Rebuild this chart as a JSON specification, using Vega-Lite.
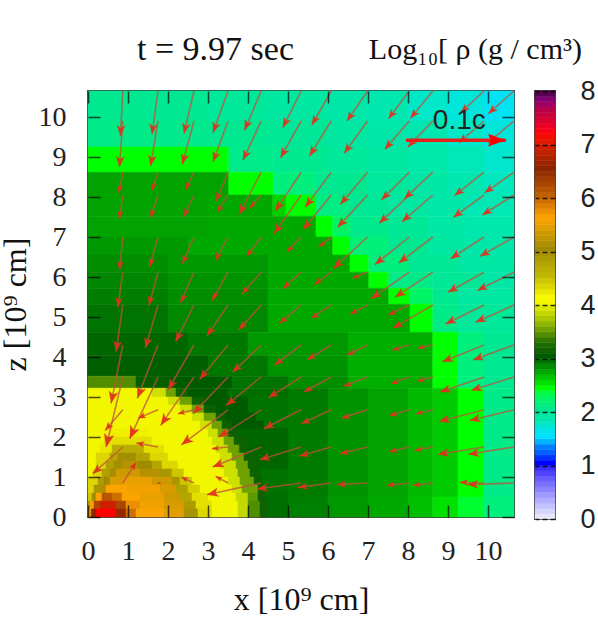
{"$schema":"https://vega.github.io/schema/vega-lite/v6.json","background":"white","padding":{"left":-2,"top":32,"right":0,"bottom":0},"bounds":"flush","spacing":21,"config":{"view":{"stroke":"#444","strokeWidth":2},"font":"Liberation Serif"},
"datasets":{
"cells":[
{"x":0,"x2":1.5,"z":9.9,"z2":10.65,"d":2},{"x":1.5,"x2":3,"z":9.9,"z2":10.65,"d":1.99},{"x":3,"x2":4.5,"z":9.9,"z2":10.65,"d":1.95},{"x":4.5,"x2":6,"z":9.9,"z2":10.65,"d":1.9},{"x":6,"x2":7,"z":9.9,"z2":10.65,"d":1.85},{"x":7,"x2":8,"z":9.9,"z2":10.65,"d":1.8},{"x":8,"x2":9,"z":9.9,"z2":10.65,"d":1.73},{"x":9,"x2":9.9,"z":9.9,"z2":10.65,"d":1.66},{"x":9.9,"x2":10.65,"z":9.9,"z2":10.65,"d":1.57},
{"x":0,"x2":1.5,"z":9.25,"z2":9.9,"d":2.05},{"x":1.5,"x2":3,"z":9.25,"z2":9.9,"d":2.03},{"x":3,"x2":4.5,"z":9.25,"z2":9.9,"d":2},{"x":4.5,"x2":6,"z":9.25,"z2":9.9,"d":1.96},{"x":6,"x2":7,"z":9.25,"z2":9.9,"d":1.9},{"x":7,"x2":8,"z":9.25,"z2":9.9,"d":1.85},{"x":8,"x2":9,"z":9.25,"z2":9.9,"d":1.8},{"x":9,"x2":9.9,"z":9.25,"z2":9.9,"d":1.73},{"x":9.9,"x2":10.65,"z":9.25,"z2":9.9,"d":1.66},
{"x":0,"x2":3.52,"z":8.62,"z2":9.25,"d":2.4},{"x":3.52,"x2":4.63,"z":8.62,"z2":9.25,"d":2.04},{"x":4.63,"x2":6,"z":8.62,"z2":9.25,"d":2},{"x":6,"x2":7,"z":8.62,"z2":9.25,"d":1.95},{"x":7,"x2":8,"z":8.62,"z2":9.25,"d":1.89},{"x":8,"x2":9,"z":8.62,"z2":9.25,"d":1.84},{"x":9,"x2":9.9,"z":8.62,"z2":9.25,"d":1.78},{"x":9.9,"x2":10.65,"z":8.62,"z2":9.25,"d":1.71},
{"x":0,"x2":3.52,"z":8.05,"z2":8.62,"d":2.72},{"x":3.52,"x2":4.63,"z":8.05,"z2":8.62,"d":2.4},{"x":4.63,"x2":5.7,"z":8.05,"z2":8.62,"d":2.1},{"x":5.7,"x2":7,"z":8.05,"z2":8.62,"d":2},{"x":7,"x2":8,"z":8.05,"z2":8.62,"d":1.93},{"x":8,"x2":9,"z":8.05,"z2":8.62,"d":1.87},{"x":9,"x2":9.9,"z":8.05,"z2":8.62,"d":1.81},{"x":9.9,"x2":10.65,"z":8.05,"z2":8.62,"d":1.76},
{"x":0,"x2":3,"z":7.52,"z2":8.05,"d":2.72},{"x":3,"x2":4.62,"z":7.52,"z2":8.05,"d":2.7},{"x":4.62,"x2":4.95,"z":7.52,"z2":8.05,"d":2.55},{"x":4.95,"x2":5.7,"z":7.52,"z2":8.05,"d":2.4},{"x":5.7,"x2":6.55,"z":7.52,"z2":8.05,"d":2.08},{"x":6.55,"x2":7.5,"z":7.52,"z2":8.05,"d":1.97},{"x":7.5,"x2":8.5,"z":7.52,"z2":8.05,"d":1.9},{"x":8.5,"x2":9.45,"z":7.52,"z2":8.05,"d":1.85},{"x":9.45,"x2":10.65,"z":7.52,"z2":8.05,"d":1.79},
{"x":0,"x2":3,"z":7,"z2":7.52,"d":2.72},{"x":3,"x2":5.7,"z":7,"z2":7.52,"d":2.7},{"x":5.7,"x2":6.12,"z":7,"z2":7.52,"d":2.4},{"x":6.12,"x2":6.55,"z":7,"z2":7.52,"d":2.2},{"x":6.55,"x2":7.5,"z":7,"z2":7.52,"d":2.03},{"x":7.5,"x2":8.5,"z":7,"z2":7.52,"d":1.96},{"x":8.5,"x2":9.45,"z":7,"z2":7.52,"d":1.87},{"x":9.45,"x2":10.65,"z":7,"z2":7.52,"d":1.82},
{"x":0,"x2":2.5,"z":6.55,"z2":7,"d":2.76},{"x":2.5,"x2":6.12,"z":6.55,"z2":7,"d":2.7},{"x":6.12,"x2":6.55,"z":6.55,"z2":7,"d":2.4},{"x":6.55,"x2":7.5,"z":6.55,"z2":7,"d":2.12},{"x":7.5,"x2":8.5,"z":6.55,"z2":7,"d":2},{"x":8.5,"x2":9.45,"z":6.55,"z2":7,"d":1.9},{"x":9.45,"x2":10.65,"z":6.55,"z2":7,"d":1.85},
{"x":0,"x2":2,"z":6.12,"z2":6.55,"d":2.8},{"x":2,"x2":4.5,"z":6.12,"z2":6.55,"d":2.76},{"x":4.5,"x2":6.55,"z":6.12,"z2":6.55,"d":2.7},{"x":6.55,"x2":7.02,"z":6.12,"z2":6.55,"d":2.4},{"x":7.02,"x2":8.05,"z":6.12,"z2":6.55,"d":2.1},{"x":8.05,"x2":9.25,"z":6.12,"z2":6.55,"d":1.97},{"x":9.25,"x2":10.65,"z":6.12,"z2":6.55,"d":1.88},
{"x":0,"x2":2,"z":5.72,"z2":6.12,"d":2.83},{"x":2,"x2":4.5,"z":5.72,"z2":6.12,"d":2.78},{"x":4.5,"x2":7.02,"z":5.72,"z2":6.12,"d":2.7},{"x":7.02,"x2":7.52,"z":5.72,"z2":6.12,"d":2.4},{"x":7.52,"x2":8.62,"z":5.72,"z2":6.12,"d":2.05},{"x":8.62,"x2":9.9,"z":5.72,"z2":6.12,"d":1.96},{"x":9.9,"x2":10.65,"z":5.72,"z2":6.12,"d":1.87},
{"x":0,"x2":2,"z":5.32,"z2":5.72,"d":2.86},{"x":2,"x2":4.5,"z":5.32,"z2":5.72,"d":2.8},{"x":4.5,"x2":7.52,"z":5.32,"z2":5.72,"d":2.7},{"x":7.52,"x2":8.05,"z":5.32,"z2":5.72,"d":2.4},{"x":8.05,"x2":8.62,"z":5.32,"z2":5.72,"d":2.2},{"x":8.62,"x2":9.25,"z":5.32,"z2":5.72,"d":2},{"x":9.25,"x2":10.65,"z":5.32,"z2":5.72,"d":1.9},
{"x":0,"x2":2,"z":4.62,"z2":5.32,"d":2.9},{"x":2,"x2":4.5,"z":4.62,"z2":5.32,"d":2.82},{"x":4.5,"x2":8.05,"z":4.62,"z2":5.32,"d":2.7},{"x":8.05,"x2":8.62,"z":4.62,"z2":5.32,"d":2.4},{"x":8.62,"x2":9.25,"z":4.62,"z2":5.32,"d":2.05},{"x":9.25,"x2":10.65,"z":4.62,"z2":5.32,"d":1.95},
{"x":0,"x2":2.5,"z":4.03,"z2":4.62,"d":2.95},{"x":2.5,"x2":4,"z":4.03,"z2":4.62,"d":2.88},{"x":4,"x2":6.5,"z":4.03,"z2":4.62,"d":2.76},{"x":6.5,"x2":8.62,"z":4.03,"z2":4.62,"d":2.68},{"x":8.62,"x2":9.25,"z":4.03,"z2":4.62,"d":2.4},{"x":9.25,"x2":9.9,"z":4.03,"z2":4.62,"d":2.1},{"x":9.9,"x2":10.65,"z":4.03,"z2":4.62,"d":1.98},
{"x":0,"x2":3,"z":3.52,"z2":4.03,"d":2.98},{"x":3,"x2":4.5,"z":3.52,"z2":4.03,"d":2.88},{"x":4.5,"x2":6.5,"z":3.52,"z2":4.03,"d":2.78},{"x":6.5,"x2":8.62,"z":3.52,"z2":4.03,"d":2.68},{"x":8.62,"x2":9.25,"z":3.52,"z2":4.03,"d":2.4},{"x":9.25,"x2":9.9,"z":3.52,"z2":4.03,"d":2.1},{"x":9.9,"x2":10.65,"z":3.52,"z2":4.03,"d":1.98},
{"x":0,"x2":1.2,"z":3.22,"z2":3.52,"d":3.4},{"x":1.2,"x2":2,"z":3.22,"z2":3.52,"d":3.05},{"x":2,"x2":3.6,"z":3.22,"z2":3.52,"d":3},{"x":3.6,"x2":5,"z":3.22,"z2":3.52,"d":2.9},{"x":5,"x2":6.5,"z":3.22,"z2":3.52,"d":2.8},{"x":6.5,"x2":8.62,"z":3.22,"z2":3.52,"d":2.68},{"x":8.62,"x2":9.25,"z":3.22,"z2":3.52,"d":2.4},{"x":9.25,"x2":9.9,"z":3.22,"z2":3.52,"d":2.1},{"x":9.9,"x2":10.65,"z":3.22,"z2":3.52,"d":2},
{"x":5,"x2":6,"z":0.5,"z2":3.22,"d":2.87},{"x":6,"x2":7,"z":0.5,"z2":3.22,"d":2.78},{"x":7,"x2":8,"z":0.5,"z2":3.22,"d":2.72},{"x":8,"x2":8.62,"z":0.5,"z2":3.22,"d":2.64},{"x":8.62,"x2":9.25,"z":0.5,"z2":3.22,"d":2.58},{"x":9.25,"x2":9.9,"z":0.5,"z2":3.22,"d":2.4},{"x":9.9,"x2":10.65,"z":0.5,"z2":3.22,"d":2.05},
{"x":5,"x2":6,"z":0,"z2":0.5,"d":2.85},{"x":6,"x2":7,"z":0,"z2":0.5,"d":2.76},{"x":7,"x2":8,"z":0,"z2":0.5,"d":2.7},{"x":8,"x2":8.62,"z":0,"z2":0.5,"d":2.62},{"x":8.62,"x2":9.25,"z":0,"z2":0.5,"d":2.5},{"x":9.25,"x2":9.9,"z":0,"z2":0.5,"d":2.35},{"x":9.9,"x2":10.65,"z":0,"z2":0.5,"d":2.1},
{"x":0,"x2":1.6,"z":3,"z2":3.22,"d":4},{"x":1.6,"x2":1.95,"z":3,"z2":3.22,"d":3.85},{"x":1.95,"x2":2.2,"z":3,"z2":3.22,"d":3.5},{"x":2.2,"x2":2.5,"z":3,"z2":3.22,"d":3.1},{"x":2.5,"x2":3.5,"z":3,"z2":3.22,"d":3},{"x":3.5,"x2":5,"z":3,"z2":3.22,"d":2.92},
{"x":0,"x2":2,"z":2.8,"z2":3,"d":4},{"x":2,"x2":2.3,"z":2.8,"z2":3,"d":3.85},{"x":2.3,"x2":2.6,"z":2.8,"z2":3,"d":3.5},{"x":2.6,"x2":2.9,"z":2.8,"z2":3,"d":3.1},{"x":2.9,"x2":4,"z":2.8,"z2":3,"d":3},{"x":4,"x2":5,"z":2.8,"z2":3,"d":2.9},
{"x":0,"x2":2.3,"z":2.6,"z2":2.8,"d":4},{"x":2.3,"x2":2.6,"z":2.6,"z2":2.8,"d":3.85},{"x":2.6,"x2":2.9,"z":2.6,"z2":2.8,"d":3.5},{"x":2.9,"x2":3.2,"z":2.6,"z2":2.8,"d":3.08},{"x":3.2,"x2":4,"z":2.6,"z2":2.8,"d":3},{"x":4,"x2":5,"z":2.6,"z2":2.8,"d":2.9},
{"x":0,"x2":2.6,"z":2.4,"z2":2.6,"d":4},{"x":2.6,"x2":2.9,"z":2.4,"z2":2.6,"d":3.85},{"x":2.9,"x2":3.2,"z":2.4,"z2":2.6,"d":3.5},{"x":3.2,"x2":3.45,"z":2.4,"z2":2.6,"d":3.08},{"x":3.45,"x2":4.2,"z":2.4,"z2":2.6,"d":3},{"x":4.2,"x2":5,"z":2.4,"z2":2.6,"d":2.9},
{"x":0,"x2":2.8,"z":2.2,"z2":2.4,"d":4},{"x":2.8,"x2":3.1,"z":2.2,"z2":2.4,"d":3.85},{"x":3.1,"x2":3.35,"z":2.2,"z2":2.4,"d":3.5},{"x":3.35,"x2":3.6,"z":2.2,"z2":2.4,"d":3.08},{"x":3.6,"x2":4.4,"z":2.2,"z2":2.4,"d":3},{"x":4.4,"x2":5,"z":2.2,"z2":2.4,"d":2.9},
{"x":0,"x2":0.5,"z":2,"z2":2.2,"d":4},{"x":0.5,"x2":1.5,"z":2,"z2":2.2,"d":4.15},{"x":1.5,"x2":3,"z":2,"z2":2.2,"d":4},{"x":3,"x2":3.25,"z":2,"z2":2.2,"d":3.85},{"x":3.25,"x2":3.5,"z":2,"z2":2.2,"d":3.5},{"x":3.5,"x2":3.75,"z":2,"z2":2.2,"d":3.08},{"x":3.75,"x2":5,"z":2,"z2":2.2,"d":2.95},
{"x":0,"x2":0.4,"z":1.8,"z2":2,"d":4},{"x":0.4,"x2":1.6,"z":1.8,"z2":2,"d":4.25},{"x":1.6,"x2":3.1,"z":1.8,"z2":2,"d":4},{"x":3.1,"x2":3.4,"z":1.8,"z2":2,"d":3.85},{"x":3.4,"x2":3.65,"z":1.8,"z2":2,"d":3.5},{"x":3.65,"x2":3.9,"z":1.8,"z2":2,"d":3.1},{"x":3.9,"x2":5,"z":1.8,"z2":2,"d":2.95},
{"x":0,"x2":0.3,"z":1.6,"z2":1.8,"d":4},{"x":0.3,"x2":0.6,"z":1.6,"z2":1.8,"d":4.2},{"x":0.6,"x2":1.4,"z":1.6,"z2":1.8,"d":4.6},{"x":1.4,"x2":1.9,"z":1.6,"z2":1.8,"d":4.25},{"x":1.9,"x2":3.2,"z":1.6,"z2":1.8,"d":4},{"x":3.2,"x2":3.5,"z":1.6,"z2":1.8,"d":3.85},{"x":3.5,"x2":3.78,"z":1.6,"z2":1.8,"d":3.5},{"x":3.78,"x2":4,"z":1.6,"z2":1.8,"d":3.1},{"x":4,"x2":5,"z":1.6,"z2":1.8,"d":2.95},
{"x":0,"x2":0.2,"z":1.4,"z2":1.6,"d":4},{"x":0.2,"x2":0.55,"z":1.4,"z2":1.6,"d":4.3},{"x":0.55,"x2":0.75,"z":1.4,"z2":1.6,"d":4.7},{"x":0.75,"x2":1.2,"z":1.4,"z2":1.6,"d":4.95},{"x":1.2,"x2":1.55,"z":1.4,"z2":1.6,"d":4.7},{"x":1.55,"x2":2,"z":1.4,"z2":1.6,"d":4.3},{"x":2,"x2":3.3,"z":1.4,"z2":1.6,"d":4},{"x":3.3,"x2":3.6,"z":1.4,"z2":1.6,"d":3.85},{"x":3.6,"x2":3.9,"z":1.4,"z2":1.6,"d":3.5},{"x":3.9,"x2":4.15,"z":1.4,"z2":1.6,"d":3.1},{"x":4.15,"x2":5,"z":1.4,"z2":1.6,"d":2.95},
{"x":0,"x2":0.2,"z":1.2,"z2":1.4,"d":4},{"x":0.2,"x2":0.45,"z":1.2,"z2":1.4,"d":4.3},{"x":0.45,"x2":0.65,"z":1.2,"z2":1.4,"d":4.75},{"x":0.65,"x2":0.85,"z":1.2,"z2":1.4,"d":4.95},{"x":0.85,"x2":1.25,"z":1.2,"z2":1.4,"d":5.15},{"x":1.25,"x2":1.6,"z":1.2,"z2":1.4,"d":5},{"x":1.6,"x2":1.85,"z":1.2,"z2":1.4,"d":4.7},{"x":1.85,"x2":2.25,"z":1.2,"z2":1.4,"d":4.3},{"x":2.25,"x2":3.3,"z":1.2,"z2":1.4,"d":4},{"x":3.3,"x2":3.7,"z":1.2,"z2":1.4,"d":3.85},{"x":3.7,"x2":4,"z":1.2,"z2":1.4,"d":3.5},{"x":4,"x2":4.25,"z":1.2,"z2":1.4,"d":3.1},{"x":4.25,"x2":5,"z":1.2,"z2":1.4,"d":2.95},
{"x":0,"x2":0.12,"z":1,"z2":1.2,"d":4},{"x":0.12,"x2":0.35,"z":1,"z2":1.2,"d":4.3},{"x":0.35,"x2":0.55,"z":1,"z2":1.2,"d":4.75},{"x":0.55,"x2":0.7,"z":1,"z2":1.2,"d":4.95},{"x":0.7,"x2":1.3,"z":1,"z2":1.2,"d":5.3},{"x":1.3,"x2":1.8,"z":1,"z2":1.2,"d":5.15},{"x":1.8,"x2":2.1,"z":1,"z2":1.2,"d":4.85},{"x":2.1,"x2":2.4,"z":1,"z2":1.2,"d":4.4},{"x":2.4,"x2":3.4,"z":1,"z2":1.2,"d":4},{"x":3.4,"x2":3.75,"z":1,"z2":1.2,"d":3.85},{"x":3.75,"x2":4.05,"z":1,"z2":1.2,"d":3.5},{"x":4.05,"x2":4.3,"z":1,"z2":1.2,"d":3.1},{"x":4.3,"x2":5,"z":1,"z2":1.2,"d":2.9},
{"x":0,"x2":0.25,"z":0.8,"z2":1,"d":4.3},{"x":0.25,"x2":0.4,"z":0.8,"z2":1,"d":4.8},{"x":0.4,"x2":0.55,"z":0.8,"z2":1,"d":5},{"x":0.55,"x2":0.9,"z":0.8,"z2":1,"d":5.35},{"x":0.9,"x2":1.6,"z":0.8,"z2":1,"d":5.45},{"x":1.6,"x2":2.1,"z":0.8,"z2":1,"d":5.3},{"x":2.1,"x2":2.3,"z":0.8,"z2":1,"d":4.85},{"x":2.3,"x2":2.6,"z":0.8,"z2":1,"d":4.4},{"x":2.6,"x2":3.5,"z":0.8,"z2":1,"d":4},{"x":3.5,"x2":3.8,"z":0.8,"z2":1,"d":3.85},{"x":3.8,"x2":4.15,"z":0.8,"z2":1,"d":3.5},{"x":4.15,"x2":4.35,"z":0.8,"z2":1,"d":3.1},{"x":4.35,"x2":5,"z":0.8,"z2":1,"d":2.9},
{"x":0,"x2":0.15,"z":0.6,"z2":0.8,"d":4.3},{"x":0.15,"x2":0.3,"z":0.6,"z2":0.8,"d":4.85},{"x":0.3,"x2":0.45,"z":0.6,"z2":0.8,"d":5.1},{"x":0.45,"x2":1,"z":0.6,"z2":0.8,"d":5.55},{"x":1,"x2":1.8,"z":0.6,"z2":0.8,"d":5.5},{"x":1.8,"x2":2.2,"z":0.6,"z2":0.8,"d":5.35},{"x":2.2,"x2":2.5,"z":0.6,"z2":0.8,"d":4.75},{"x":2.5,"x2":2.8,"z":0.6,"z2":0.8,"d":4.35},{"x":2.8,"x2":3.6,"z":0.6,"z2":0.8,"d":4},{"x":3.6,"x2":3.85,"z":0.6,"z2":0.8,"d":3.85},{"x":3.85,"x2":4.25,"z":0.6,"z2":0.8,"d":3.5},{"x":4.25,"x2":4.4,"z":0.6,"z2":0.8,"d":3.1},{"x":4.4,"x2":5,"z":0.6,"z2":0.8,"d":2.9},
{"x":0,"x2":0.1,"z":0.4,"z2":0.6,"d":4.4},{"x":0.1,"x2":0.2,"z":0.4,"z2":0.6,"d":5},{"x":0.2,"x2":0.35,"z":0.4,"z2":0.6,"d":5.6},{"x":0.35,"x2":0.6,"z":0.4,"z2":0.6,"d":6.1},{"x":0.6,"x2":0.85,"z":0.4,"z2":0.6,"d":5.9},{"x":0.85,"x2":1.3,"z":0.4,"z2":0.6,"d":5.55},{"x":1.3,"x2":1.9,"z":0.4,"z2":0.6,"d":5.45},{"x":1.9,"x2":2.3,"z":0.4,"z2":0.6,"d":5.3},{"x":2.3,"x2":2.6,"z":0.4,"z2":0.6,"d":4.7},{"x":2.6,"x2":3,"z":0.4,"z2":0.6,"d":4.25},{"x":3,"x2":3.7,"z":0.4,"z2":0.6,"d":4},{"x":3.7,"x2":4,"z":0.4,"z2":0.6,"d":3.8},{"x":4,"x2":4.25,"z":0.4,"z2":0.6,"d":3.45},{"x":4.25,"x2":4.45,"z":0.4,"z2":0.6,"d":3.1},{"x":4.45,"x2":5,"z":0.4,"z2":0.6,"d":2.92},
{"x":0,"x2":0.06,"z":0.2,"z2":0.4,"d":4.8},{"x":0.06,"x2":0.15,"z":0.2,"z2":0.4,"d":5.6},{"x":0.15,"x2":0.3,"z":0.2,"z2":0.4,"d":6.2},{"x":0.3,"x2":0.7,"z":0.2,"z2":0.4,"d":6.9},{"x":0.7,"x2":0.95,"z":0.2,"z2":0.4,"d":6.2},{"x":0.95,"x2":1.3,"z":0.2,"z2":0.4,"d":5.7},{"x":1.3,"x2":1.9,"z":0.2,"z2":0.4,"d":5.5},{"x":1.9,"x2":2.4,"z":0.2,"z2":0.4,"d":5.35},{"x":2.4,"x2":2.7,"z":0.2,"z2":0.4,"d":4.8},{"x":2.7,"x2":3.1,"z":0.2,"z2":0.4,"d":4.25},{"x":3.1,"x2":3.75,"z":0.2,"z2":0.4,"d":4},{"x":3.75,"x2":4,"z":0.2,"z2":0.4,"d":3.8},{"x":4,"x2":4.3,"z":0.2,"z2":0.4,"d":3.4},{"x":4.3,"x2":4.5,"z":0.2,"z2":0.4,"d":3.1},{"x":4.5,"x2":5,"z":0.2,"z2":0.4,"d":2.92},
{"x":0,"x2":0.08,"z":0,"z2":0.2,"d":5.5},{"x":0.08,"x2":0.2,"z":0,"z2":0.2,"d":6.5},{"x":0.2,"x2":0.7,"z":0,"z2":0.2,"d":7.15},{"x":0.7,"x2":0.95,"z":0,"z2":0.2,"d":6.6},{"x":0.95,"x2":1.2,"z":0,"z2":0.2,"d":5.9},{"x":1.2,"x2":1.9,"z":0,"z2":0.2,"d":5.55},{"x":1.9,"x2":2.4,"z":0,"z2":0.2,"d":5.4},{"x":2.4,"x2":2.75,"z":0,"z2":0.2,"d":4.9},{"x":2.75,"x2":3.1,"z":0,"z2":0.2,"d":4.3},{"x":3.1,"x2":3.75,"z":0,"z2":0.2,"d":4},{"x":3.75,"x2":4,"z":0,"z2":0.2,"d":3.8},{"x":4,"x2":4.3,"z":0,"z2":0.2,"d":3.4},{"x":4.3,"x2":4.5,"z":0,"z2":0.2,"d":3.1},{"x":4.5,"x2":5,"z":0,"z2":0.2,"d":2.92}
],
"vectors":[
{"x":0.87,"z":10.65,"u":-7,"w":-135},{"x":1.75,"z":10.65,"u":-18,"w":-130},{"x":2.65,"z":10.65,"u":-30,"w":-128},{"x":3.5,"z":10.65,"u":-45,"w":-125},{"x":4.33,"z":10.65,"u":-50,"w":-118},{"x":5.33,"z":10.65,"u":-55,"w":-110},{"x":6.08,"z":10.65,"u":-58,"w":-102},{"x":6.99,"z":10.65,"u":-62,"w":-90},{"x":8.03,"z":10.65,"u":-62,"w":-83},{"x":8.62,"z":10.65,"u":-67,"w":-82},{"x":9.9,"z":10.65,"u":-70,"w":-65},{"x":10.65,"z":10.65,"u":-77,"w":-68},
{"x":0.87,"z":9.9,"u":-10,"w":-138},{"x":1.75,"z":9.9,"u":-22,"w":-135},{"x":2.65,"z":9.9,"u":-35,"w":-130},{"x":3.5,"z":9.9,"u":-45,"w":-123},{"x":4.33,"z":9.9,"u":-55,"w":-118},{"x":5.33,"z":9.9,"u":-62,"w":-110},{"x":6.08,"z":9.9,"u":-65,"w":-105},{"x":6.99,"z":9.9,"u":-70,"w":-97},{"x":8.03,"z":9.9,"u":-73,"w":-85},{"x":8.62,"z":9.9,"u":-75,"w":-78},{"x":9.9,"z":9.9,"u":-75,"w":-65},{"x":10.65,"z":9.9,"u":-78,"w":-65},
{"x":0.87,"z":8.62,"u":-12,"w":-63},{"x":1.75,"z":8.62,"u":-18,"w":-55},{"x":2.65,"z":8.62,"u":-25,"w":-53},{"x":3.5,"z":8.62,"u":-35,"w":-87},{"x":4.33,"z":8.62,"u":-67,"w":-128},{"x":5.33,"z":8.62,"u":-78,"w":-117},{"x":6.08,"z":8.62,"u":-78,"w":-105},{"x":6.99,"z":8.62,"u":-82,"w":-97},{"x":8.03,"z":8.62,"u":-83,"w":-83},{"x":8.62,"z":8.62,"u":-85,"w":-80},{"x":9.9,"z":8.62,"u":-88,"w":-70},{"x":10.65,"z":8.62,"u":-88,"w":-62},
{"x":0.87,"z":8.05,"u":-10,"w":-73},{"x":1.75,"z":8.05,"u":-22,"w":-68},{"x":2.65,"z":8.05,"u":-30,"w":-65},{"x":3.5,"z":8.05,"u":-32,"w":-52},{"x":4.33,"z":8.05,"u":-35,"w":-40},{"x":5.33,"z":8.05,"u":-82,"w":-117},{"x":6.08,"z":8.05,"u":-85,"w":-105},{"x":6.99,"z":8.05,"u":-90,"w":-97},{"x":8.03,"z":8.05,"u":-90,"w":-85},{"x":8.62,"z":8.05,"u":-92,"w":-80},{"x":9.9,"z":8.05,"u":-92,"w":-67},{"x":10.65,"z":8.05,"u":-95,"w":-60},
{"x":0.87,"z":7,"u":-10,"w":-100},{"x":1.75,"z":7,"u":-25,"w":-90},{"x":2.65,"z":7,"u":-35,"w":-80},{"x":3.5,"z":7,"u":-37,"w":-70},{"x":4.33,"z":7,"u":-43,"w":-58},{"x":5.33,"z":7,"u":-43,"w":-45},{"x":6.08,"z":7,"u":-38,"w":-30},{"x":6.99,"z":7,"u":-103,"w":-95},{"x":8.03,"z":7,"u":-103,"w":-83},{"x":8.62,"z":7,"u":-102,"w":-78},{"x":9.9,"z":7,"u":-100,"w":-65},{"x":10.65,"z":7,"u":-102,"w":-58},
{"x":0.87,"z":6.12,"u":-15,"w":-105},{"x":1.75,"z":6.12,"u":-27,"w":-100},{"x":2.65,"z":6.12,"u":-40,"w":-92},{"x":3.5,"z":6.12,"u":-48,"w":-85},{"x":4.33,"z":6.12,"u":-57,"w":-65},{"x":5.33,"z":6.12,"u":-55,"w":-50},{"x":6.08,"z":6.12,"u":-50,"w":-37},{"x":6.99,"z":6.12,"u":-45,"w":-18},{"x":8.03,"z":6.12,"u":-115,"w":-80},{"x":8.62,"z":6.12,"u":-113,"w":-75},{"x":9.9,"z":6.12,"u":-108,"w":-60},{"x":10.65,"z":6.12,"u":-110,"w":-55},
{"x":0.87,"z":5.3,"u":-20,"w":-140},{"x":1.75,"z":5.3,"u":-38,"w":-130},{"x":2.65,"z":5.3,"u":-55,"w":-110},{"x":3.5,"z":5.3,"u":-63,"w":-93},{"x":4.33,"z":5.3,"u":-68,"w":-75},{"x":5.33,"z":5.3,"u":-65,"w":-55},{"x":6.08,"z":5.3,"u":-60,"w":-40},{"x":6.99,"z":5.3,"u":-52,"w":-27},{"x":8.03,"z":5.3,"u":-63,"w":-30},{"x":8.62,"z":5.3,"u":-120,"w":-70},{"x":9.9,"z":5.3,"u":-115,"w":-57},{"x":10.65,"z":5.3,"u":-115,"w":-52},
{"x":0.87,"z":4.3,"u":-35,"w":-175},{"x":1.75,"z":4.3,"u":-62,"w":-160},{"x":2.65,"z":4.3,"u":-78,"w":-135},{"x":3.5,"z":4.3,"u":-85,"w":-103},{"x":4.33,"z":4.3,"u":-86,"w":-82},{"x":5.33,"z":4.3,"u":-80,"w":-60},{"x":6.08,"z":4.3,"u":-72,"w":-45},{"x":6.99,"z":4.3,"u":-62,"w":-30},{"x":8.03,"z":4.3,"u":-50,"w":-15},{"x":8.62,"z":4.3,"u":-45,"w":-10},{"x":9.9,"z":4.3,"u":-125,"w":-50},{"x":10.65,"z":4.3,"u":-123,"w":-45},
{"x":0.87,"z":3.5,"u":-50,"w":-210},{"x":1.75,"z":3.5,"u":-85,"w":-185},{"x":2.65,"z":3.5,"u":-100,"w":-145},{"x":3.5,"z":3.5,"u":-105,"w":-110},{"x":4.33,"z":3.5,"u":-105,"w":-85},{"x":5.33,"z":3.5,"u":-98,"w":-62},{"x":6.08,"z":3.5,"u":-82,"w":-45},{"x":6.99,"z":3.5,"u":-72,"w":-28},{"x":8.03,"z":3.5,"u":-55,"w":-20},{"x":8.62,"z":3.5,"u":-47,"w":-13},{"x":9.9,"z":3.5,"u":-132,"w":-45},{"x":10.65,"z":3.5,"u":-128,"w":-40},
{"x":0.87,"z":2.68,"u":-53,"w":-62},{"x":1.75,"z":2.68,"u":-60,"w":-25},{"x":2.65,"z":2.68,"u":-48,"w":-12},{"x":3.5,"z":2.68,"u":-140,"w":-105},{"x":4.33,"z":2.68,"u":-128,"w":-82},{"x":5.33,"z":2.68,"u":-112,"w":-57},{"x":6.08,"z":2.68,"u":-90,"w":-42},{"x":6.99,"z":2.68,"u":-78,"w":-25},{"x":8.03,"z":2.68,"u":-60,"w":-18},{"x":8.62,"z":2.68,"u":-50,"w":-12},{"x":9.9,"z":2.68,"u":-135,"w":-35},{"x":10.65,"z":2.68,"u":-133,"w":-32},
{"x":0.87,"z":1.75,"u":-90,"w":-80},{"x":1.75,"z":1.75,"u":-65,"w":12},{"x":3.5,"z":1.75,"u":-48,"w":-5},{"x":4.33,"z":1.75,"u":-146,"w":-60},{"x":5.33,"z":1.75,"u":-125,"w":-38},{"x":6.08,"z":1.75,"u":-95,"w":-27},{"x":6.99,"z":1.75,"u":-83,"w":-20},{"x":8.03,"z":1.75,"u":-60,"w":-14},{"x":8.62,"z":1.75,"u":-55,"w":-10},{"x":9.9,"z":1.75,"u":-138,"w":-22},{"x":10.65,"z":1.75,"u":-137,"w":-22},
{"x":0.87,"z":0.85,"u":40,"w":62},{"x":1.75,"z":0.85,"u":-3,"w":0},{"x":2.65,"z":0.85,"u":-38,"w":17},{"x":3.5,"z":0.85,"u":-37,"w":20},{"x":4.33,"z":0.85,"u":-163,"w":-35},{"x":5.33,"z":0.85,"u":-132,"w":-18},{"x":6.08,"z":0.85,"u":-100,"w":-13},{"x":6.99,"z":0.85,"u":-92,"w":-5},{"x":8.03,"z":0.85,"u":-67,"w":-7},{"x":8.62,"z":0.85,"u":-60,"w":-7},{"x":9.9,"z":0.85,"u":-73,"w":2},{"x":10.65,"z":0.85,"u":-140,"w":-5}
],
"reference":[{"x":7.95,"z":9.42,"u":300,"w":0,"t":"0.1c"}],
"bar":[{"v":0,"v2":0.1},{"v":0.1,"v2":0.2},{"v":0.2,"v2":0.3},{"v":0.3,"v2":0.4},{"v":0.4,"v2":0.5},{"v":0.5,"v2":0.6},{"v":0.6,"v2":0.7},{"v":0.7,"v2":0.8},{"v":0.8,"v2":0.9},{"v":0.9,"v2":1},{"v":1,"v2":1.1},{"v":1.1,"v2":1.2},{"v":1.2,"v2":1.3},{"v":1.3,"v2":1.4},{"v":1.4,"v2":1.5},{"v":1.5,"v2":1.6},{"v":1.6,"v2":1.7},{"v":1.7,"v2":1.8},{"v":1.8,"v2":1.9},{"v":1.9,"v2":2},{"v":2,"v2":2.1},{"v":2.1,"v2":2.2},{"v":2.2,"v2":2.3},{"v":2.3,"v2":2.4},{"v":2.4,"v2":2.5},{"v":2.5,"v2":2.6},{"v":2.6,"v2":2.7},{"v":2.7,"v2":2.8},{"v":2.8,"v2":2.9},{"v":2.9,"v2":3},{"v":3,"v2":3.1},{"v":3.1,"v2":3.2},{"v":3.2,"v2":3.3},{"v":3.3,"v2":3.4},{"v":3.4,"v2":3.5},{"v":3.5,"v2":3.6},{"v":3.6,"v2":3.7},{"v":3.7,"v2":3.8},{"v":3.8,"v2":3.9},{"v":3.9,"v2":4},{"v":4,"v2":4.1},{"v":4.1,"v2":4.2},{"v":4.2,"v2":4.3},{"v":4.3,"v2":4.4},{"v":4.4,"v2":4.5},{"v":4.5,"v2":4.6},{"v":4.6,"v2":4.7},{"v":4.7,"v2":4.8},{"v":4.8,"v2":4.9},{"v":4.9,"v2":5},{"v":5,"v2":5.1},{"v":5.1,"v2":5.2},{"v":5.2,"v2":5.3},{"v":5.3,"v2":5.4},{"v":5.4,"v2":5.5},{"v":5.5,"v2":5.6},{"v":5.6,"v2":5.7},{"v":5.7,"v2":5.8},{"v":5.8,"v2":5.9},{"v":5.9,"v2":6},{"v":6,"v2":6.1},{"v":6.1,"v2":6.2},{"v":6.2,"v2":6.3},{"v":6.3,"v2":6.4},{"v":6.4,"v2":6.5},{"v":6.5,"v2":6.6},{"v":6.6,"v2":6.7},{"v":6.7,"v2":6.8},{"v":6.8,"v2":6.9},{"v":6.9,"v2":7},{"v":7,"v2":7.1},{"v":7.1,"v2":7.2},{"v":7.2,"v2":7.3},{"v":7.3,"v2":7.4},{"v":7.4,"v2":7.5},{"v":7.5,"v2":7.6},{"v":7.6,"v2":7.7},{"v":7.7,"v2":7.8},{"v":7.8,"v2":7.9},{"v":7.9,"v2":8}]
},
"hconcat":[
{"width":426,"height":426,"title":{"text":"t = 9.97 sec","font":"Liberation Serif","fontSize":34,"fontWeight":"normal","anchor":"start","dx":138,"offset":23,"color":"#111"},
"resolve":{"axis":{"x":"independent","y":"independent"}},
"layer":[
{"data":{"name":"cells"},"mark":{"type":"rect","strokeWidth":0.5},"encoding":{
"x":{"field":"x","type":"quantitative","scale":{"domain":[0,10.65],"nice":false},"axis":{"values":[0,1,2,3,4,5,6,7,8,9,10],"orient":"bottom","title":"x [10⁹ cm]","titleFont":"Liberation Serif","titleFontSize":32,"titleFontWeight":"normal","titleColor":"#111","titlePadding":19,"labelFont":"Liberation Serif","labelFontSize":28,"labelColor":"#222","labelPadding":32,"labelFlush":false,"tickSize":-12,"tickColor":"#000","tickOpacity":0.7,"tickWidth":1.5,"domain":false,"grid":false,"zindex":1}},
"x2":{"field":"x2"},
"y":{"field":"z","type":"quantitative","scale":{"domain":[0,10.65],"nice":false},"axis":{"values":[0,1,2,3,4,5,6,7,8,9,10],"orient":"left","title":"z [10⁹ cm]","titleFont":"Liberation Serif","titleFontSize":32,"titleFontWeight":"normal","titleColor":"#111","titlePadding":6,"labelFont":"Liberation Serif","labelFontSize":28,"labelColor":"#222","labelPadding":34,"labelFlush":false,"tickSize":-12,"tickColor":"#000","tickOpacity":0.7,"tickWidth":1.5,"domain":false,"grid":false,"zindex":1}},
"y2":{"field":"z2"},
"color":{"field":"d","type":"quantitative","legend":null,"scale":{"domain":[0,1,1.05,1.3,1.5,1.8,2,2.4,3,3.25,3.65,4.05,4.5,5,5.57,6,6.5,7.15,7.55,7.8,8],"range":["#e8e8fb","#0000ff","#0000ff","#0080ff","#00e0ff","#00e8b0","#00e890","#00ff00","#005a00","#207000","#a0c000","#ffff00","#c0b800","#a08a00","#ffa500","#c06000","#8b2500","#ff0000","#c0003c","#800070","#300030"]}},
"stroke":{"field":"d","type":"quantitative","legend":null,"scale":{"domain":[0,1,1.05,1.3,1.5,1.8,2,2.4,3,3.25,3.65,4.05,4.5,5,5.57,6,6.5,7.15,7.55,7.8,8],"range":["#e8e8fb","#0000ff","#0000ff","#0080ff","#00e0ff","#00e8b0","#00e890","#00ff00","#005a00","#207000","#a0c000","#ffff00","#c0b800","#a08a00","#ffa500","#c06000","#8b2500","#ff0000","#c0003c","#800070","#300030"]}}
}},
{"data":{"name":"vectors"},"transform":[{"calculate":"datum.x+datum.u/120","as":"xt"},{"calculate":"datum.z+datum.w/120","as":"zt"}],"mark":{"type":"rule","color":"#c0503c","opacity":0.75,"strokeWidth":1.6},"encoding":{
"x":{"field":"x","type":"quantitative","axis":{"values":[0,1,2,3,4,5,6,7,8,9,10],"orient":"top","title":null,"labels":false,"tickSize":-12,"tickColor":"#000","tickOpacity":0.7,"tickWidth":1.5,"domain":false,"grid":false,"zindex":1}},
"y":{"field":"z","type":"quantitative","axis":{"values":[0,1,2,3,4,5,6,7,8,9,10],"orient":"right","title":null,"labels":false,"tickSize":-12,"tickColor":"#000","tickOpacity":0.7,"tickWidth":1.5,"domain":false,"grid":false,"zindex":1}},
"x2":{"field":"xt"},"y2":{"field":"zt"}}},
{"data":{"name":"vectors"},"transform":[{"calculate":"datum.x+datum.u/120","as":"xt"},{"calculate":"datum.z+datum.w/120","as":"zt"},{"calculate":"atan2(datum.u,datum.w)*180/PI","as":"heading"},{"calculate":"sqrt(datum.u*datum.u+datum.w*datum.w)","as":"speed"}],"mark":{"type":"point","shape":"M0,0L-.8,2L0,1.5L.8,2Z","filled":true,"color":"#e0301c","opacity":0.9},"encoding":{
"x":{"field":"xt","type":"quantitative","axis":null},"y":{"field":"zt","type":"quantitative","axis":null},
"angle":{"field":"heading","type":"quantitative","scale":null},
"size":{"field":"speed","type":"quantitative","legend":null,"scale":{"domain":[3,250],"range":[16,200]}}}},
{"data":{"name":"reference"},"transform":[{"calculate":"datum.x+datum.u/120","as":"xt"}],"mark":{"type":"rule","color":"#e8201c","strokeWidth":3.5},"encoding":{"x":{"field":"x","type":"quantitative","axis":null},"y":{"field":"z","type":"quantitative","axis":null},"x2":{"field":"xt"}}},
{"data":{"name":"reference"},"transform":[{"calculate":"datum.x+datum.u/120","as":"xt"},{"calculate":"atan2(datum.u,datum.w)*180/PI","as":"heading"}],"mark":{"type":"point","shape":"M0,0L-.7,2L0,1.7L.7,2Z","filled":true,"color":"#ff0000","size":320,"opacity":1},"encoding":{"x":{"field":"xt","type":"quantitative","axis":null},"y":{"field":"z","type":"quantitative","axis":null},"angle":{"field":"heading","type":"quantitative","scale":null}}},
{"data":{"name":"reference"},"transform":[{"calculate":"datum.x+160/120","as":"xm"}],"mark":{"type":"text","font":"Liberation Sans","fontSize":28,"color":"#222","dy":-19},"encoding":{"x":{"field":"xm","type":"quantitative","axis":null},"y":{"field":"z","type":"quantitative","axis":null},"text":{"field":"t"}}}
]},
{"width":20,"height":428,"title":{"text":"Log₁₀[ ρ (g / cm³)","font":"Liberation Serif","fontSize":30,"fontWeight":"normal","anchor":"end","dx":-13,"offset":12,"color":"#111"},
"data":{"name":"bar"},"mark":{"type":"rect","strokeWidth":0.5},"encoding":{
"y":{"field":"v","type":"quantitative","scale":{"domain":[0,8],"nice":false},"axis":{"values":[0,1,2,3,4,5,6,7,8],"orient":"right","title":null,"labelFont":"Liberation Sans","labelFontSize":27,"labelColor":"#222","labelPadding":45,"labelFlush":false,"tickSize":-20,"tickColor":"#000","tickOpacity":0.8,"tickWidth":1.5,"tickDash":[5,3],"domain":false,"grid":false,"zindex":1}},
"y2":{"field":"v2"},
"color":{"field":"v","type":"quantitative","legend":null,"scale":{"domain":[0,1,1.05,1.3,1.5,1.8,2,2.4,3,3.25,3.65,4.05,4.5,5,5.57,6,6.5,7.15,7.55,7.8,8],"range":["#e8e8fb","#0000ff","#0000ff","#0080ff","#00e0ff","#00e8b0","#00e890","#00ff00","#005a00","#207000","#a0c000","#ffff00","#c0b800","#a08a00","#ffa500","#c06000","#8b2500","#ff0000","#c0003c","#800070","#300030"]}},
"stroke":{"field":"v","type":"quantitative","legend":null,"scale":{"domain":[0,1,1.05,1.3,1.5,1.8,2,2.4,3,3.25,3.65,4.05,4.5,5,5.57,6,6.5,7.15,7.55,7.8,8],"range":["#e8e8fb","#0000ff","#0000ff","#0080ff","#00e0ff","#00e8b0","#00e890","#00ff00","#005a00","#207000","#a0c000","#ffff00","#c0b800","#a08a00","#ffa500","#c06000","#8b2500","#ff0000","#c0003c","#800070","#300030"]}}
}}
]}
